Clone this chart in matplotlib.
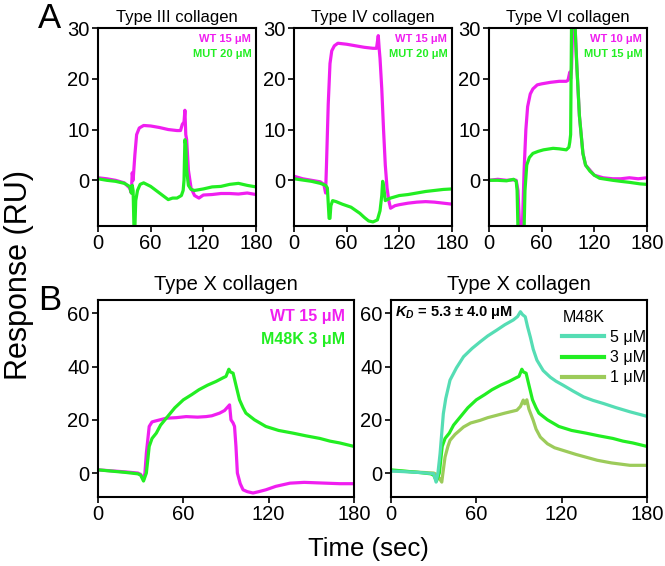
import matplotlib
matplotlib.use("Agg")
import matplotlib.pyplot as plt

plt.rcParams['font.family'] = ['Liberation Sans', 'DejaVu Sans']
plt.rcParams['mathtext.fontset'] = 'custom'
plt.rcParams['mathtext.it'] = 'Liberation Sans:italic:bold'
plt.rcParams['mathtext.rm'] = 'Liberation Sans:bold'

MAG = "#F01EF0"
GRN = "#22EE22"
TURQ = "#55DDB4"
OLIVE = "#9CCB5A"

# ---------------- Panel A data ----------------
titles_a = ["Type III collagen", "Type IV collagen", "Type VI collagen"]
labels_wt_a = ["WT 15 μM", "WT 15 μM", "WT 10 μM"]
labels_mut_a = ["MUT 20 μM", "MUT 20 μM", "MUT 15 μM"]

t_a1_wt = [0, 10, 20, 30, 36, 38, 39, 40, 42, 44, 47, 52, 60, 70, 80, 90, 94, 96, 98, 99, 100, 101, 103, 106, 110, 115, 120, 130, 140, 150, 160, 170, 180]
y_a1_wt = [0.5, 0.3, 0.0, -0.5, -1.5, -2.5, 1.5, 0.0, 5.0, 9.0, 10.3, 10.8, 10.7, 10.4, 10.0, 9.8, 9.8, 11.0, 11.5, 13.8, 9.0, 8.0, 2.0, -1.5, -3.0, -3.5, -2.9, -2.8, -2.6, -2.6, -2.7, -2.5, -2.8]
t_a1_mut = [0, 10, 20, 30, 36, 38, 39, 40, 41, 42, 43, 45, 48, 52, 60, 70, 80, 85, 90, 95, 97, 98, 99, 100, 101, 103, 106, 110, 120, 130, 140, 150, 160, 170, 180]
y_a1_mut = [0.3, 0.0, -0.2, -0.6, -1.2, -2.5, -1.0, -2.0, -9.5, -9.5, -4.0, -2.0, -0.8, -0.5, -1.2, -2.5, -3.8, -3.5, -3.5, -3.0, -2.0, 0.0, 8.0, 7.0, 2.0, -1.0, -1.8, -2.0, -1.7, -1.3, -1.2, -0.8, -0.6, -1.0, -1.3]

t_a2_wt = [0, 10, 20, 30, 34, 36, 37, 39, 41, 43, 46, 50, 60, 70, 80, 90, 94, 96, 97, 98, 100, 102, 104, 106, 108, 110, 115, 120, 130, 140, 150, 160, 170, 180]
y_a2_wt = [0.8, 0.3, 0.0, -0.3, -0.8, -2.5, 3.0, 15.0, 23.0, 25.5, 26.5, 27.0, 26.8, 26.5, 26.2, 26.0, 26.0, 28.5, 26.0, 24.0, 18.0, 10.0, 3.0, -1.5, -4.0, -5.5, -5.0, -4.8, -4.5, -4.3, -4.2, -4.3, -4.5, -4.7]
t_a2_mut = [0, 20, 30, 36, 38, 40, 41, 42, 44, 48, 55, 65, 75, 80, 85, 90, 95, 98, 100, 101, 102, 104, 106, 110, 120, 130, 140, 150, 160, 170, 180]
y_a2_mut = [0.3, -0.2, -0.6, -1.0, -1.5, -7.5, -7.5, -5.0, -4.0, -4.2, -4.7, -5.3, -6.5, -7.3, -8.0, -8.2, -7.8, -6.0, -3.0, -0.2, -1.0, -4.0, -3.8, -3.5, -3.0, -2.8, -2.5, -2.2, -2.0, -1.8, -1.7]

t_a3_wt = [0, 10, 20, 28, 31, 33, 35, 38, 40, 42, 44, 47, 50, 55, 60, 70, 80, 88, 90, 92, 93, 94, 95, 96, 98, 100, 103, 107, 110, 115, 120, 126, 130, 141, 150, 160, 170, 180]
y_a3_wt = [0.0, 0.2, 0.0, 0.1, 0.0, -2.0, -9.5, -9.5, 2.0, 10.0, 14.5, 17.0, 18.0, 18.8, 19.0, 19.3, 19.5, 19.5, 19.7, 21.3, 20.0, 22.0, 28.0, 30.5, 30.5, 22.7, 12.7, 5.3, 3.0, 2.0, 1.0, 0.7, 0.5, 0.3, 0.3, 0.5, 0.3, 0.5]
t_a3_mut = [0, 10, 20, 28, 31, 32, 33, 40, 41, 43, 46, 50, 56, 62, 73, 80, 88, 91, 92, 93, 94, 98, 100, 103, 107, 110, 115, 120, 126, 141, 150, 160, 172, 180]
y_a3_mut = [0.0, 0.0, -0.1, 0.2, -0.2, -2.0, -9.5, -9.5, -2.0, 3.0, 4.5, 5.3, 5.7, 6.0, 6.3, 6.2, 6.0, 6.5, 7.5, 9.0, 30.5, 30.5, 22.7, 12.7, 5.3, 3.0, 1.8, 1.0, 0.4, 0.0, -0.2, -0.4, -0.7, -0.8]

# ---------------- Panel B data ----------------
title_b = "Type X collagen"
t_b_wt = [0, 10, 20, 28, 30, 32, 33, 34, 36, 38, 40, 48, 55, 62, 70, 76, 80, 85.5, 89, 92.5, 93.5, 95, 96, 97, 98, 100, 102, 105, 109, 113, 118, 125, 135, 145, 155, 170, 180]
y_b_wt = [1.2, 0.8, 0.4, 0.0, -0.5, -2.5, 0.0, 7.5, 17.5, 19.2, 19.5, 20.6, 20.8, 21.2, 21.0, 21.2, 21.5, 22.5, 23.5, 25.6, 20.0, 18.8, 17.5, 10.0, 0.0, -4.0, -6.3, -7.0, -7.5, -7.0, -6.3, -5.0, -3.8, -3.5, -3.7, -4.0, -4.0]
t_b_3 = [0, 10, 20, 28, 30, 32, 34, 36, 38, 41, 44, 48, 54, 60, 66, 71, 77, 83, 88, 90, 92, 93, 95, 97, 99.5, 102, 104, 110, 118, 127, 137, 146, 156, 163, 170, 180]
y_b_3 = [1.2, 0.7, 0.2, -0.3, -0.8, -3.0, 0.0, 10.0, 13.0, 15.0, 18.0, 20.6, 24.5, 27.5, 29.5, 31.3, 33.0, 34.4, 35.8, 36.3, 39.0, 38.0, 37.5, 33.0, 27.5, 24.5, 22.5, 20.0, 17.5, 16.0, 15.0, 14.0, 13.0, 12.0, 11.3, 10.0]
t_b_5 = [0, 10, 20, 30, 31.7, 33, 34.5, 36.8, 38.5, 41.5, 46, 51, 57, 62.7, 68, 74.4, 80, 86, 89, 91, 92.5, 94.4, 96, 98, 100, 102.6, 107, 112, 116, 121, 128, 135.4, 142, 149.5, 158, 168, 180]
y_b_5 = [0.75, 0.5, 0.2, -0.25, -3.4, 0.0, 7.3, 22.3, 28.0, 34.9, 39.5, 43.7, 46.8, 49.3, 51.5, 53.7, 55.7, 57.5, 58.8, 60.6, 59.5, 58.7, 55.0, 51.0, 46.5, 42.4, 38.5, 36.0, 34.5, 33.0, 30.8, 28.6, 27.3, 26.1, 24.6, 23.0, 21.3]
t_b_1 = [0, 10, 20, 30, 32, 34, 35.7, 36.5, 38, 40, 41.5, 45, 51, 56, 62.7, 68, 74.4, 80, 88.5, 91, 93, 94, 95.5, 97, 100, 102, 105, 110, 115, 121, 130, 145, 155, 168, 180]
y_b_1 = [0.9, 0.6, 0.3, 0.0, -0.5, -2.0, -3.4, 0.0, 6.0, 10.0, 12.3, 14.5, 17.3, 18.8, 19.8, 20.8, 21.7, 22.5, 23.6, 25.0, 27.4, 26.0, 27.5, 24.0, 19.8, 16.5, 13.5, 11.0, 9.5, 8.5, 7.0, 4.8, 3.8, 2.9, 2.9]
labels_b1 = ["WT 15 μM", "M48K 3 μM"]
labels_b2 = ["5 μM", "3 μM", "1 μM"]
legend_title_b2 = "M48K"
kd_text = r"$K_D$ = 5.3 ± 4.0 μM"

xticks = [0, 60, 120, 180]
yticks_a = [0, 10, 20, 30]
yticks_b = [0, 20, 40, 60]

W, H = 665, 566
fig = plt.figure(figsize=(W / 100, H / 100), dpi=100)

def frac(l, r, t, b):
    return [l / W, 1 - b / H, (r - l) / W, (b - t) / H]

def style(ax, yt, ylim, fs):
    ax.set_xlim(0, 180)
    ax.set_ylim(*ylim)
    ax.set_xticks(xticks)
    ax.set_yticks(yt)
    ax.tick_params(direction='out', length=4, width=1.2, labelsize=fs, pad=2)
    for s in ax.spines.values():
        s.set_linewidth(1.5)

a_lefts = [98, 294, 489]
data_a = [(t_a1_wt, y_a1_wt, t_a1_mut, y_a1_mut),
          (t_a2_wt, y_a2_wt, t_a2_mut, y_a2_mut),
          (t_a3_wt, y_a3_wt, t_a3_mut, y_a3_mut)]
for i, l in enumerate(a_lefts):
    ax = fig.add_axes(frac(l, l + 158, 28, 226))
    tw, yw, tm, ym = data_a[i]
    ax.plot(tw, yw, color=MAG, lw=2.3, clip_on=True)
    ax.plot(tm, ym, color=GRN, lw=2.3, clip_on=True)
    style(ax, yticks_a, (-9, 30), 14.5)
    ax.set_title(titles_a[i], fontsize=12, pad=4)
    ax.text(0.97, 0.945, labels_wt_a[i], transform=ax.transAxes, ha='right', va='center',
            color=MAG, fontsize=8, fontweight='bold')
    ax.text(0.97, 0.87, labels_mut_a[i], transform=ax.transAxes, ha='right', va='center',
            color=GRN, fontsize=8, fontweight='bold')

# Panel B1
ax = fig.add_axes(frac(98, 354, 300, 497))
ax.plot(t_b_wt, y_b_wt, color=MAG, lw=2.3)
ax.plot(t_b_3, y_b_3, color=GRN, lw=2.3)
style(ax, yticks_b, (-9, 65), 14.5)
ax.set_title(title_b, fontsize=14.5, pad=7)
ax.text(0.965, 0.914, labels_b1[0], transform=ax.transAxes, ha='right', va='center',
        color=MAG, fontsize=11.5, fontweight='bold')
ax.text(0.965, 0.797, labels_b1[1], transform=ax.transAxes, ha='right', va='center',
        color=GRN, fontsize=11.5, fontweight='bold')

# Panel B2
ax = fig.add_axes(frac(391, 647, 300, 497))
l1, = ax.plot(t_b_1, y_b_1, color=OLIVE, lw=2.3)
l3, = ax.plot(t_b_3, y_b_3, color=GRN, lw=2.3)
l5, = ax.plot(t_b_5, y_b_5, color=TURQ, lw=2.3)
style(ax, yticks_b, (-9, 65), 14.5)
ax.set_title(title_b, fontsize=14.5, pad=7)
ax.text(0.015, 0.935, kd_text, transform=ax.transAxes, ha='left', va='center',
        fontsize=10.5, fontweight='bold')
leg = ax.legend([l5, l3, l1], labels_b2, title=legend_title_b2, loc='upper right',
                bbox_to_anchor=(1.035, 1.0), frameon=False, fontsize=11.5,
                title_fontsize=11.5, handlelength=2.6, handletextpad=0.4,
                labelspacing=0.33, borderaxespad=0.2, alignment='left')
for lh in leg.get_lines():
    lh.set_linewidth(3)

fig.text(38 / W, 1 - 28 / H, "A", fontsize=25, ha='left', va='baseline')
fig.text(38 / W, 1 - 310 / H, "B", fontsize=25, ha='left', va='baseline')
fig.text(19 / W, 1 - 275 / H, "Response (RU)", fontsize=22, rotation=90, ha='center', va='center')
fig.text(368 / W, 1 - 549 / H, "Time (sec)", fontsize=18.5, ha='center', va='center')

fig.savefig("out.png", dpi=100)
